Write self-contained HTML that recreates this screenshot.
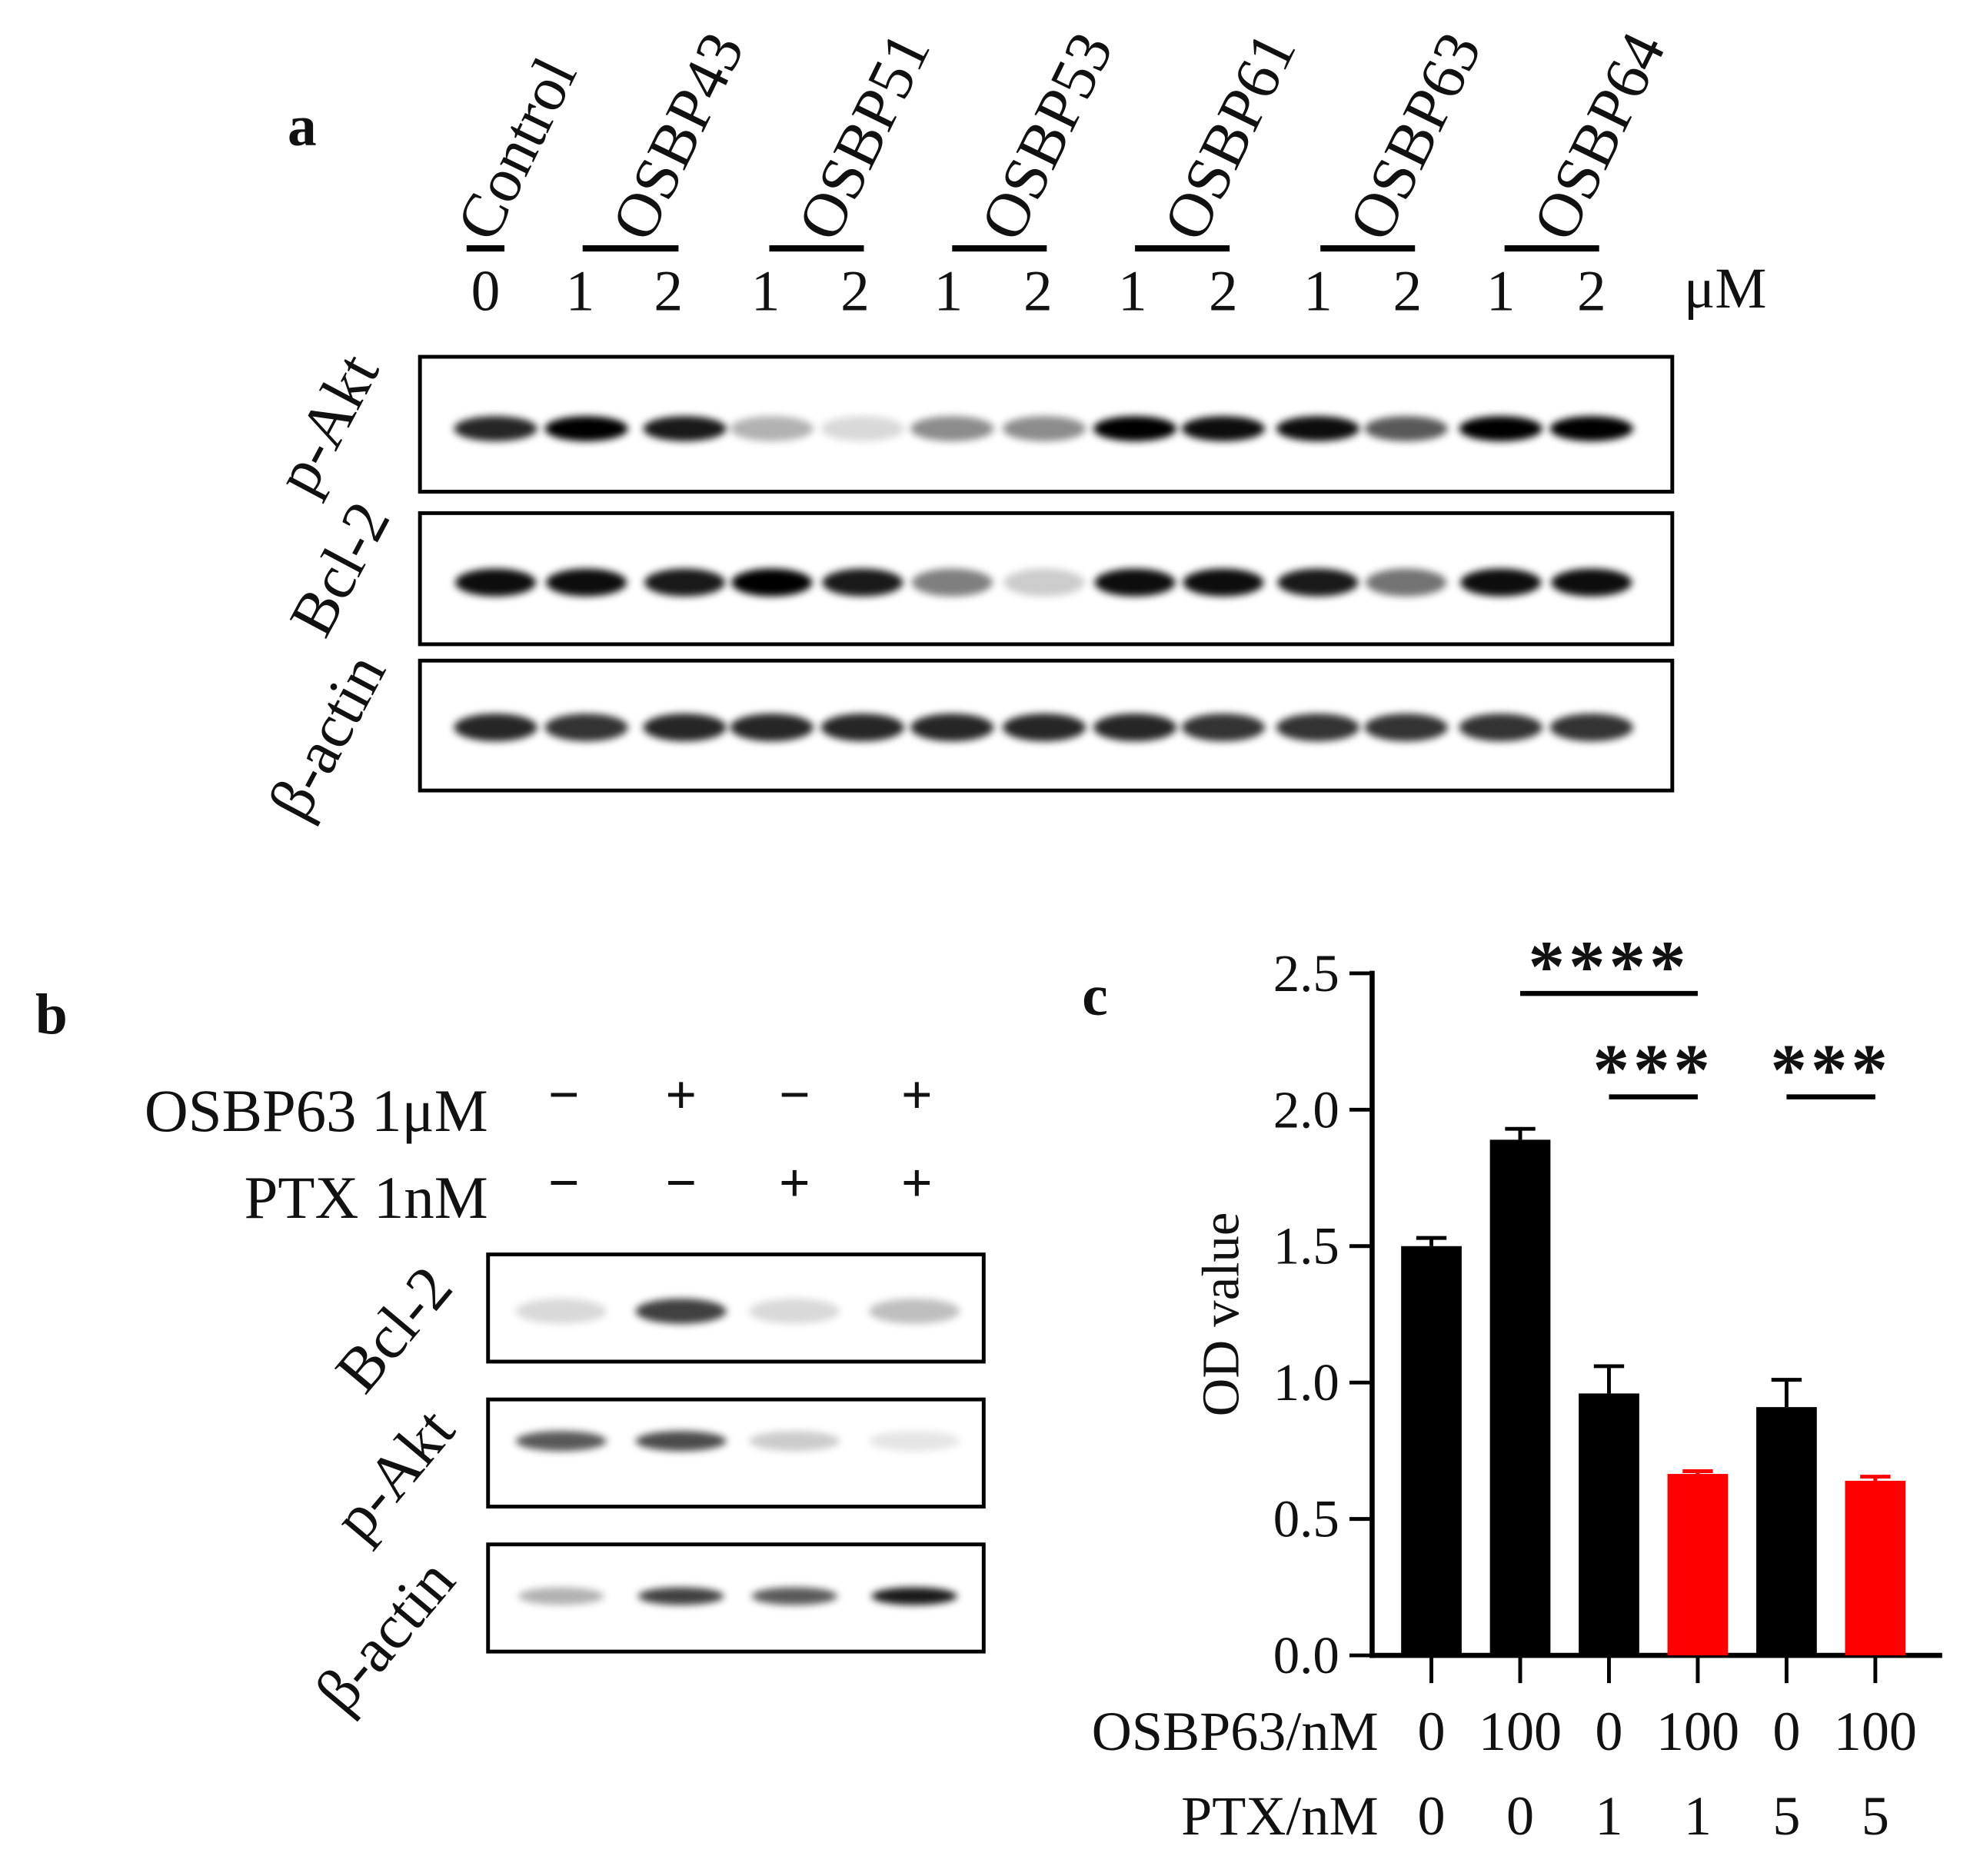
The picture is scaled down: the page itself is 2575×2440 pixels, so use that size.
<!DOCTYPE html>
<html><head><meta charset="utf-8"><style>html,body{margin:0;padding:0;background:#fff}svg{display:block}text{font-family:"Liberation Serif",serif;fill:#111}</style></head>
<body>
<svg id="fig" width="2575" height="2440" viewBox="0 0 1570 1488" preserveAspectRatio="none" xmlns="http://www.w3.org/2000/svg">
<defs><filter id="bl" x="-50%" y="-100%" width="200%" height="300%"><feGaussianBlur stdDeviation="3"/></filter></defs>
<g id="pa"></g>
<g id="pb"></g>
<g id="pc"></g>
</svg>
<script>
// Panel c data
const categories = ["0/0","100/0","0/1","100/1","0/5","100/5"];
const osbpLabels = ["0","100","0","100","0","100"];
const ptxLabels = ["0","0","1","1","5","5"];
const odValues = [1.50, 1.89, 0.96, 0.665, 0.91, 0.64];
const odErrors = [0.03, 0.04, 0.10, 0.01, 0.10, 0.015];
const barColors = ["#000","#000","#000","#f00","#000","#f00"];
const yTicks = [0, 0.5, 1.0, 1.5, 2.0, 2.5];
const sigPairs = [[1,3,"****",0],[2,3,"***",1],[4,5,"***",1]];
// Blot band intensities (0-1)
const laneLabelsA = ["Control","OSBP43","OSBP51","OSBP53","OSBP61","OSBP63","OSBP64"];
const pAktA = [0.85,1,0.9,0.3,0.15,0.45,0.45,1,0.95,0.95,0.65,1,1];
const bcl2A = [0.95,0.95,0.9,1,0.9,0.5,0.2,0.95,0.95,0.9,0.55,0.95,0.95];
const actinA = [0.85,0.8,0.85,0.85,0.85,0.85,0.85,0.85,0.8,0.8,0.8,0.8,0.8];
const bcl2B = [0.15,0.75,0.15,0.25];
const pAktB = [0.65,0.7,0.2,0.1];
const actinB = [0.3,0.75,0.65,0.9];

const NS="http://www.w3.org/2000/svg";
function mk(parent,tag,attrs,txt){const e=document.createElementNS(NS,tag);for(const k in attrs)e.setAttribute(k,attrs[k]);if(txt!==undefined)e.textContent=txt;parent.appendChild(e);return e;}
const pa=document.getElementById('pa'),pb=document.getElementById('pb'),pc=document.getElementById('pc');

// ---- Panel a ----
let t=mk(pa,'text',{x:228,y:115,'font-size':46,'font-weight':'bold'},'a');


const grpX=[[370,400],[462,538],[610,685],[755,830],[900,975],[1047,1122],[1193,1268]];
laneLabelsA.forEach((l,i)=>{
  const cx=i===0?385:(grpX[i][0]+grpX[i][1])/2+8;
  const e=mk(pa,'text',{x:0,y:0,'font-size':50,transform:`translate(${cx+6},${194}) rotate(-64)`},l);
  
  
  const b=mk(pa,'line',{x1:grpX[i][0],x2:grpX[i][1],y1:197,y2:197,stroke:'#000','stroke-width':5});
  
  
});
const doseX=[385,460,530,607,678,752,823,898,970,1045,1116,1190,1262];
const doses=["0","1","2","1","2","1","2","1","2","1","2","1","2"];
doses.forEach((d,i)=>{const e=mk(pa,'text',{x:doseX[i],y:246,'font-size':46,'text-anchor':'middle'},d);
  
  });
t=mk(pa,'text',{x:1368,y:244,'font-size':46,'text-anchor':'middle'},'μM');


const laneA=[393,465,543,612,684,755,828,900,970,1045,1115,1190,1262];
function blot(parent,x,y,w,h,lanes,vals,by,bw,bh,name){
  const g=mk(parent,'g',{});
  
  
  mk(g,'rect',{x:x,y:y,width:w,height:h,fill:'#fff',stroke:'#000','stroke-width':3});
  vals.forEach((v,i)=>{const e=mk(g,'ellipse',{cx:lanes[i],cy:by,rx:bw,ry:bh,fill:'#000','fill-opacity':v,filter:'url(#bl)'});
    
    });
}
blot(pa,333,283,993,107,laneA,pAktA,340,33,10,'blot-a-pakt');
blot(pa,333,407,993,104,laneA,bcl2A,462,32,11,'blot-a-bcl2');
blot(pa,333,524,993,103,laneA,actinA,577,33,11,'blot-a-actin');
[['p-Akt',312,392],['Bcl-2',322,507],['β-actin',312,640]].forEach(a=>{
  const e=mk(pa,'text',{x:0,y:0,'font-size':50,'text-anchor':'middle',transform:`translate(${a[1]-38},${a[2]-48}) rotate(-62)`},a[0]);
  
  });

// ---- Panel b ----
t=mk(pb,'text',{x:28,y:820,'font-size':46,'font-weight':'bold'},'b');


t=mk(pb,'text',{x:387,y:897,'font-size':48,'text-anchor':'end'},'OSBP63 1μM');


t=mk(pb,'text',{x:387,y:966,'font-size':48,'text-anchor':'end'},'PTX 1nM');


const laneB=[447,540,630,727];
const r1=['−','+','−','+'],r2=['−','−','+','+'];
laneB.forEach((x,i)=>{
  let e=mk(pb,'text',{x:x,y:883,'font-size':44,'font-weight':'bold','text-anchor':'middle'},r1[i]);
  
  
  e=mk(pb,'text',{x:x,y:953,'font-size':44,'font-weight':'bold','text-anchor':'middle'},r2[i]);
  
  });
const laneB2=[445,540,630,725];
blot(pb,387,995,393,85,laneB2,bcl2B,1040,36,10,'blot-b-bcl2');
blot(pb,387,1110,393,85,laneB2,pAktB,1143,36,8,'blot-b-pakt');
blot(pb,387,1225,393,85,laneB2,actinB,1266,34,7,'blot-b-actin');
[['Bcl-2',325,1075],['p-Akt',325,1190],['β-actin',318,1318]].forEach(a=>{
  const e=mk(pb,'text',{x:0,y:0,'font-size':50,'text-anchor':'middle',transform:`translate(${a[1]},${a[2]-10}) rotate(-50)`},a[0]);
  
  });

// ---- Panel c ----
t=mk(pc,'text',{x:858,y:805,'font-size':46,'font-weight':'bold'},'c');


const X0=1088,Y0=1313,YTOP=772,YMAX=2.5;
const yS=v=>Y0-(v/YMAX)*(Y0-YTOP);
const xC=i=>1135+i*70.4;
const BW=48;
let ax=mk(pc,'line',{x1:X0,x2:X0,y1:YTOP-2,y2:Y0+2,stroke:'#000','stroke-width':4});


ax=mk(pc,'line',{x1:X0-2,x2:1540,y1:Y0,y2:Y0,stroke:'#000','stroke-width':4});


yTicks.forEach(v=>{
  const y=yS(v);
  let e=mk(pc,'line',{x1:X0-18,x2:X0,y1:y,y2:y,stroke:'#000','stroke-width':3});
  
  
  e=mk(pc,'text',{x:1062,y:y+14,'font-size':42,'text-anchor':'end'},v.toFixed(1));
  
  });
t=mk(pc,'text',{x:0,y:0,'font-size':42,'text-anchor':'middle',transform:`translate(982,${yS(1.25)}) rotate(-90)`},'OD value');


categories.forEach((c,i)=>{
  const x=xC(i),v=odValues[i],er=odErrors[i];
  let e=mk(pc,'line',{x1:x,x2:x,y1:yS(v),y2:yS(v+er),stroke:barColors[i],'stroke-width':3});
  
  
  e=mk(pc,'line',{x1:x-BW*0.25,x2:x+BW*0.25,y1:yS(v+er),y2:yS(v+er),stroke:barColors[i],'stroke-width':3});
  
  
  e=mk(pc,'rect',{x:x-BW/2,y:yS(v),width:BW,height:Y0-yS(v),fill:barColors[i]});
  
  
  e=mk(pc,'line',{x1:x,x2:x,y1:Y0,y2:Y0+22,stroke:'#000','stroke-width':3});
  
  
  e=mk(pc,'text',{x:x,y:1388,'font-size':44,'text-anchor':'middle'},osbpLabels[i]);
  
  
  e=mk(pc,'text',{x:x,y:1455,'font-size':44,'text-anchor':'middle'},ptxLabels[i]);
  
  });
t=mk(pc,'text',{x:1093,y:1388,'font-size':44,'text-anchor':'end'},'OSBP63/nM');


t=mk(pc,'text',{x:1093,y:1455,'font-size':44,'text-anchor':'end'},'PTX/nM');


sigPairs.forEach(p=>{
  const y=p[3]===0?788:870;
  const x1=xC(p[0]),x2=xC(p[1]);
  let e=mk(pc,'line',{x1:x1,x2:x2,y1:y,y2:y,stroke:'#000','stroke-width':4});
  
  
  e=mk(pc,'text',{x:(x1+x2)/2,y:y-2,'font-size':58,'font-weight':'bold','text-anchor':'middle','font-family':'Liberation Sans, sans-serif','letter-spacing':'3'},p[2]);
  
  });
</script>
</body></html>
